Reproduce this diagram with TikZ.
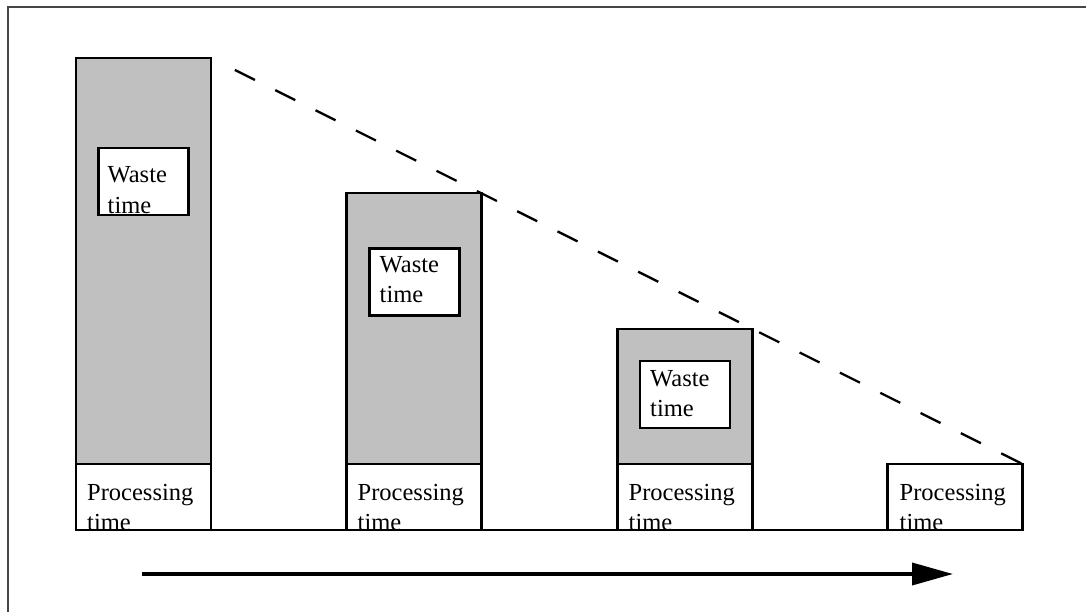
\documentclass[tikz,border=0pt]{standalone}
\usepackage{fontspec}
\setmainfont{Liberation Serif}
\usetikzlibrary{arrows.meta}
\definecolor{barfill}{RGB}{192,192,192}
\definecolor{framegray}{RGB}{70,70,70}

\begin{document}
\begin{tikzpicture}[x=1pt,y=-1pt,
		wastebar/.style={draw,fill=barfill,line width=2.3pt,inner sep=0pt,outer sep=0pt,minimum width=135pt,anchor=north west},
		procbox/.style={draw,fill=white,line width=2.3pt,inner sep=0pt,outer sep=0pt,minimum width=135pt,minimum height=66pt,anchor=north west},
		wastebox/.style={draw,fill=white,line width=2.3pt,inner sep=0pt,outer sep=0pt,minimum width=90pt,minimum height=67pt,anchor=north west},
		boxtext/.style={anchor=base west,inner sep=0pt,text width=125pt,align=left,font=\fontsize{24.5}{30.5}\selectfont}]
		\useasboundingbox (0,0) rectangle (1086,612);
		
		%%% CORNICE
		\draw[framegray,line width=2.5pt] (8,640) -- (8,7) -- (1100,7);
		
		%%% BARRE
		\node[wastebar,minimum height=406pt] (bar1) at (76,58) {};
		\node[wastebar,minimum height=271pt] (bar2) at (346.5,193) {};
		\node[wastebar,minimum height=135pt] (bar3) at (617.5,329) {};
		
		\node[procbox] (proc1) at (76,464) {};
		\node[procbox] (proc2) at (346.5,464) {};
		\node[procbox] (proc3) at (617.5,464) {};
		\node[procbox] (proc4) at (887.5,464) {};
		
		\node[wastebox] (waste1) at (98.5,148) {};
		\node[wastebox] (waste2) at (369.5,248.5) {};
		\node[wastebox] (waste3) at (640,361) {};
		
		%%% TESTI
		\node[boxtext] (wtext1) at ([xshift=9pt,yshift=-35pt]waste1.north west) {Waste\\time};
		\node[boxtext] (wtext2) at ([xshift=10pt,yshift=-24pt]waste2.north west) {Waste\\time};
		\node[boxtext] (wtext3) at ([xshift=10pt,yshift=-25pt]waste3.north west) {Waste\\time};
		
		\node[boxtext] (ptext1) at ([xshift=11pt,yshift=-36pt]proc1.north west) {Processing\\time};
		\node[boxtext] (ptext2) at ([xshift=11pt,yshift=-36pt]proc2.north west) {Processing\\time};
		\node[boxtext] (ptext3) at ([xshift=11pt,yshift=-36pt]proc3.north west) {Processing\\time};
		\node[boxtext] (ptext4) at ([xshift=12pt,yshift=-36pt]proc4.north west) {Processing\\time};
		
		%%% LINEE
		\draw[line width=2.3pt] (proc1.south west) -- (proc4.south east);
		\draw[line width=2.3pt,dash pattern=on 22.4pt off 22.7pt,dash phase=22.4pt,shorten <=4pt] (bar1.north east) -- (proc4.north east);
		
		\coordinate (arrowstart) at (142,574);
		\coordinate (arrowend) at (953,574);
		\draw[line width=3.6pt,-{Triangle[length=41pt,width=22pt]}] (arrowstart) -- (arrowend);
	\end{tikzpicture}
\end{document}
